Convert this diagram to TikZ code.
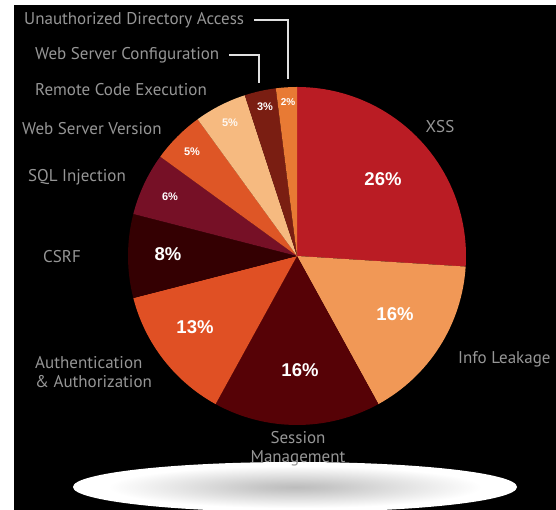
\documentclass[tikz,border=0pt]{standalone}
\usepackage{fontspec}
\setmainfont{PT Sans}
\newfontfamily\pctfont{Liberation Sans}
\usetikzlibrary{positioning}
\definecolor{xss}{RGB}{186,28,36}
\definecolor{info}{RGB}{241,152,86}
\definecolor{session}{RGB}{86,2,6}
\definecolor{auth}{RGB}{224,80,36}
\definecolor{csrf}{RGB}{52,0,2}
\definecolor{sqlinj}{RGB}{118,16,38}
\definecolor{wsversion}{RGB}{222,86,38}
\definecolor{rce}{RGB}{246,186,128}
\definecolor{wsconfig}{RGB}{122,30,18}
\definecolor{unauth}{RGB}{232,122,52}
\definecolor{labelgray}{RGB}{150,150,150}
\pgfdeclareradialshading{floor}{\pgfpoint{0bp}{0bp}}{color(0bp)=(black!26); color(4bp)=(black!22); color(21bp)=(white); color(50bp)=(white)}

\begin{document}
\begin{tikzpicture}[x=1pt, y=1pt,
    lbl/.style={text=labelgray, font=\fontsize{17}{19}\selectfont, inner sep=0pt},
    pct/.style={text=white, font=\pctfont\bfseries\fontsize{18.5}{21}\selectfont, inner sep=0pt},
    spct/.style={text=white, font=\pctfont\bfseries\fontsize{11}{13}\selectfont, inner sep=0pt},
    lead/.style={draw=white!88!black, line width=1.3pt}
  ]
  \useasboundingbox (0,0) rectangle (556,510);
  \fill[white] (0,0) rectangle (556,510);
  \fill[black] (14,0) rectangle (556,505);

  % floor shadow
  \shade[shading=floor] (295,23) ellipse[x radius=222, y radius=25];

  % slices, clockwise from the top
  \coordinate (c) at (297,254);
  \foreach \a/\b/\col in {90/-3.6/xss, -3.6/-61.2/info, -61.2/-118.8/session,
      -118.8/-165.6/auth, -165.6/-194.4/csrf, -194.4/-216/sqlinj,
      -216/-234/wsversion, -234/-252/rce, -252/-262.8/wsconfig, -262.8/-270/unauth}
    \fill[\col] (c) -- ++(\a:169) arc[start angle=\a, end angle=\b, radius=169] -- cycle;

  % percentages
  \node[pct] (p-xss) at (383,331) {26\%};
  \node[pct] (p-info) at (395,196) {16\%};
  \node[pct] (p-session) at (300,140) {16\%};
  \node[pct] (p-auth) at (195,183) {13\%};
  \node[pct] (p-csrf) at (168,256) {8\%};
  \node[spct] (p-sql) at (170,313) {6\%};
  \node[spct] (p-wsv) at (192,358) {5\%};
  \node[spct, text=white!90!rce] (p-rce) at (230,387) {5\%};
  \node[spct] (p-wsc) at (265,403) {3\%};
  \node[spct, font=\pctfont\bfseries\fontsize{10}{12}\selectfont] (p-uda) at (288,408) {2\%};

  % labels
  \node[lbl, anchor=west] (uda) at (24,490) {Unauthorized Directory Access};
  \node[lbl, anchor=west] (wsc) at (35,455) {Web Server Configuration};
  \node[lbl, anchor=west] (rce) at (35,420) {Remote Code Execution};
  \node[lbl, anchor=west] (wsv) at (22,381) {Web Server Version};
  \node[lbl, anchor=west] (sql) at (28,333) {SQL Injection};
  \node[lbl, anchor=west] (csrf) at (43,253) {CSRF};
  \node[lbl, anchor=west, align=left] (auth) at (35,138) {Authentication\\\& Authorization};
  \node[lbl, anchor=west] (info) at (458,151) {Info Leakage};
  \node[lbl] (xss) at (440,383) {XSS};
  \node[lbl, align=center] (session) at (298,61) {Session\\Management};

  % leader lines
  \coordinate (uda-end) at (288,431);
  \coordinate (wsc-end) at (259,427);
  \draw[lead] ([xshift=10pt]uda.east) -| (uda-end);
  \draw[lead] ([xshift=10pt]wsc.east) -| (wsc-end);
\end{tikzpicture}
\end{document}
